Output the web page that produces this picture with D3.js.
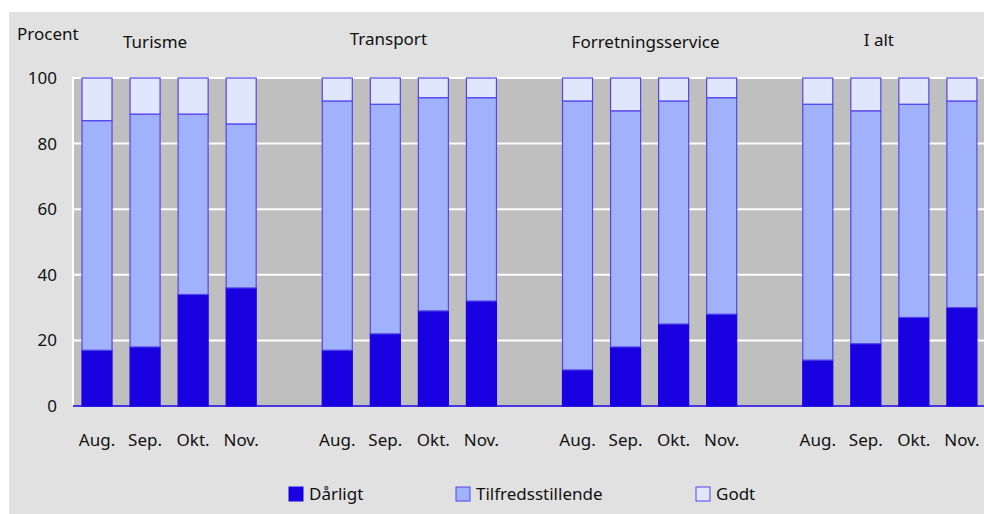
<!DOCTYPE html>
<html>
<head>
<meta charset="utf-8">
<script src="https://cdn.jsdelivr.net/npm/d3@7"></script>
<style>
  body { margin: 0; background: #fff; }
  text { font-family: "Noto Sans", sans-serif; fill: #111; }
</style>
</head>
<body>
<script>
const groups = ['Turisme', 'Transport', 'Forretningsservice', 'I alt'];
const months = ['Aug.', 'Sep.', 'Okt.', 'Nov.'];
const series = ['Dårligt', 'Tilfredsstillende', 'Godt'];

const darligt = [
  [17, 18, 34, 36],
  [17, 22, 29, 32],
  [11, 18, 25, 28],
  [14, 19, 27, 30]
];
const tilfreds = [
  [70, 71, 55, 50],
  [76, 70, 65, 62],
  [82, 72, 68, 66],
  [78, 71, 65, 63]
];
const godt = [
  [13, 11, 11, 14],
  [7, 8, 6, 6],
  [7, 10, 7, 6],
  [8, 10, 8, 7]
];
const yTicks = [0, 20, 40, 60, 80, 100];

const colors = { 'Dårligt': '#1800e0', 'Tilfredsstillende': '#a1b2fc', 'Godt': '#e0e7fd' };
const strokes = { 'Dårligt': '#1800e0', 'Tilfredsstillende': '#5545e8', 'Godt': '#5545e8' };

const W = 984, H = 514;
const plot = { left: 73, right: 984, top: 78, bottom: 406 };

const svg = d3.select('body').append('svg')
  .attr('width', W)
  .attr('height', H);

svg.append('rect')
  .attr('x', 9).attr('y', 12)
  .attr('width', W - 9).attr('height', H - 12)
  .attr('fill', '#e1e1e1');

// slots: 4 bars per group and one empty slot between groups
const slots = [];
groups.forEach((g, gi) => {
  months.forEach((m, mi) => slots.push(gi + '-' + mi));
  if (gi < groups.length - 1) slots.push('gap' + gi);
});

const x = d3.scaleBand()
  .domain(slots)
  .range([plot.left, plot.left + slots.length * 48.05])
  .paddingInner(0.375)
  .paddingOuter(0.1875);

const y = d3.scaleLinear()
  .domain([0, 100])
  .range([plot.bottom, plot.top]);

svg.append('rect')
  .attr('x', plot.left).attr('y', plot.top)
  .attr('width', plot.right - plot.left).attr('height', plot.bottom - plot.top)
  .attr('fill', '#bfbfbf');

// gridlines
svg.append('g')
  .selectAll('line')
  .data(yTicks.filter(d => d > 0))
  .join('line')
  .attr('x1', plot.left).attr('x2', plot.right)
  .attr('y1', d => y(d)).attr('y2', d => y(d))
  .attr('stroke', '#fff').attr('stroke-width', 2);

svg.append('line')
  .attr('x1', plot.left).attr('x2', plot.left)
  .attr('y1', plot.top - 1).attr('y2', plot.bottom)
  .attr('stroke', '#fff').attr('stroke-width', 2);

// y tick labels
const yAxis = svg.append('g')
  .attr('transform', `translate(${plot.left},0)`)
  .call(d3.axisLeft(y).tickValues(yTicks).tickSize(0).tickPadding(16));
yAxis.select('.domain').remove();
yAxis.selectAll('text')
  .attr('font-family', '"Noto Sans", sans-serif')
  .attr('font-size', 17)
  .attr('fill', '#111');

// stacked data
const rows = [];
groups.forEach((g, gi) => {
  months.forEach((m, mi) => {
    rows.push({ key: gi + '-' + mi, 'Dårligt': darligt[gi][mi], 'Tilfredsstillende': tilfreds[gi][mi], 'Godt': godt[gi][mi] });
  });
});
const stacked = d3.stack().keys(series)(rows);

svg.append('g')
  .selectAll('g')
  .data(stacked)
  .join('g')
  .attr('fill', d => colors[d.key])
  .attr('stroke', d => strokes[d.key])
  .attr('stroke-width', 1.2)
  .selectAll('rect')
  .data(d => d)
  .join('rect')
  .attr('x', d => x(d.data.key))
  .attr('y', d => y(d[1]))
  .attr('width', x.bandwidth())
  .attr('height', d => y(d[0]) - y(d[1]));

// bottom axis line
svg.append('line')
  .attr('x1', plot.left).attr('x2', plot.right)
  .attr('y1', plot.bottom).attr('y2', plot.bottom)
  .attr('stroke', '#1800e0').attr('stroke-width', 1.5);

// month labels
svg.append('g')
  .selectAll('text')
  .data(rows)
  .join('text')
  .attr('x', d => x(d.key) + x.bandwidth() / 2)
  .attr('y', 446)
  .attr('text-anchor', 'middle')
  .attr('font-size', 17)
  .text(d => months[+d.key.split('-')[1]]);

// group labels
const labelShift = [-14, -21, -4, -11];
const labelY = [48, 45, 48, 46];
svg.append('g')
  .selectAll('text')
  .data(groups)
  .join('text')
  .attr('x', (d, i) => (x(i + '-0') + x(i + '-3') + x.bandwidth()) / 2 + labelShift[i])
  .attr('y', (d, i) => labelY[i])
  .attr('text-anchor', 'middle')
  .attr('font-size', 17)
  .text(d => d);

svg.append('text')
  .attr('x', 17).attr('y', 40)
  .attr('font-size', 17)
  .text('Procent');

// legend
const legendX = [289, 456, 696];
const legend = svg.append('g')
  .selectAll('g')
  .data(series)
  .join('g')
  .attr('transform', (d, i) => `translate(${legendX[i]},487)`);
legend.append('rect')
  .attr('width', 14).attr('height', 14)
  .attr('fill', d => colors[d])
  .attr('stroke', d => strokes[d])
  .attr('stroke-width', 1);
legend.append('text')
  .attr('x', 20).attr('y', 13)
  .attr('font-size', 17)
  .text(d => d);
</script>
</body>
</html>
